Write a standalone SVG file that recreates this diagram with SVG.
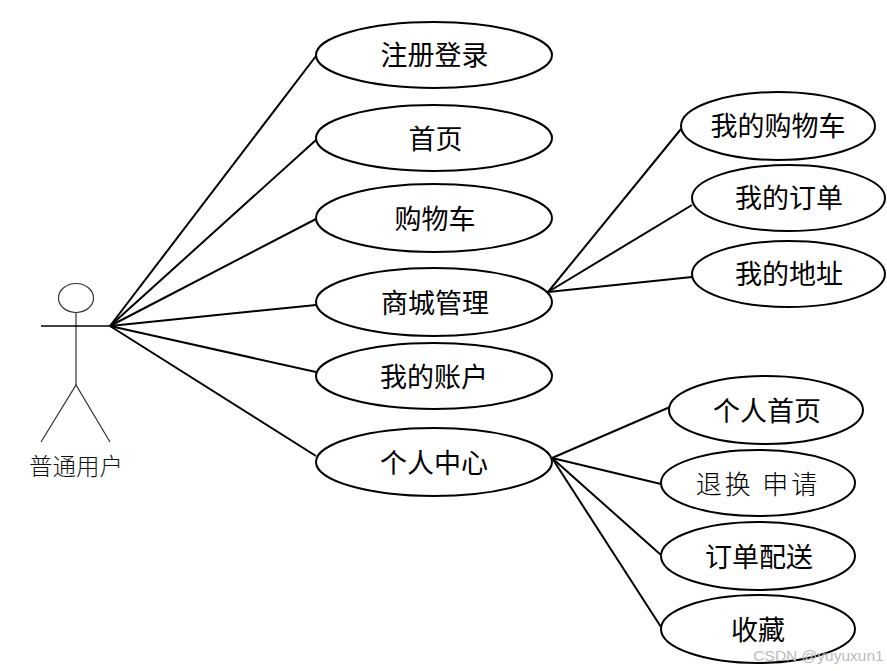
<svg xmlns="http://www.w3.org/2000/svg" width="887" height="671" viewBox="0 0 887 671">
<style>
.n{fill:#fff;stroke:#000;stroke-width:2}
.t{font-family:"Noto Sans CJK SC","Noto Sans CJK JP",sans-serif;font-size:27px;fill:#000;text-anchor:middle}
.c line{stroke:#000;stroke-width:2}
.a{fill:none;stroke:#333;stroke-width:1.2}
</style>
<rect width="887" height="671" fill="#fff"/>
<g id="connectors" class="c">
<line x1="110" y1="326" x2="316" y2="56"/>
<line x1="110" y1="326" x2="316" y2="140"/>
<line x1="110" y1="326" x2="316" y2="219"/>
<line x1="110" y1="326" x2="316" y2="305"/>
<line x1="110" y1="326" x2="316" y2="372"/>
<line x1="110" y1="326" x2="316" y2="456"/>
<line x1="548" y1="292" x2="681" y2="129"/>
<line x1="548" y1="292" x2="692" y2="205"/>
<line x1="548" y1="292" x2="692" y2="277"/>
<line x1="552" y1="458" x2="670" y2="407"/>
<line x1="552" y1="458" x2="661" y2="484"/>
<line x1="552" y1="458" x2="661" y2="555"/>
<line x1="552" y1="458" x2="661" y2="627"/>
</g>
<g id="actor">
<ellipse class="a" cx="76" cy="298" rx="17.500" ry="14.500"/>
<line class="a" x1="76" y1="312" x2="76" y2="385" stroke-width="1.500"/>
<line x1="41" y1="326" x2="110" y2="326" stroke="#000" stroke-width="1.500"/>
<path class="a" d="M41 442L76 385L110 442"/>
<text x="76" y="475" font-family="'Noto Sans CJK SC',serif" font-weight="300" font-size="23.500" text-anchor="middle" fill="#111">普通用户</text>
</g>
<g id="n1"><ellipse class="n" cx="434" cy="55" rx="118" ry="33"/><text class="t" x="434.500" y="65">注册登录</text></g>
<g id="n2"><ellipse class="n" cx="434" cy="138" rx="118" ry="33"/><text class="t" x="435.500" y="149">首页</text></g>
<g id="n3"><ellipse class="n" cx="434" cy="218" rx="118" ry="34"/><text class="t" x="435" y="229">购物车</text></g>
<g id="n4"><ellipse class="n" cx="434" cy="302" rx="118" ry="34"/><text class="t" x="435" y="313">商城管理</text></g>
<g id="n5"><ellipse class="n" cx="434" cy="376" rx="118" ry="33"/><text class="t" x="434" y="387">我的账户</text></g>
<g id="n6"><ellipse class="n" cx="434" cy="462" rx="118" ry="34"/><text class="t" x="434" y="473">个人中心</text></g>
<g id="n7"><ellipse class="n" cx="778" cy="126" rx="97" ry="34"/><text class="t" x="778" y="136">我的购物车</text></g>
<g id="n8"><ellipse class="n" cx="788.500" cy="198" rx="96.500" ry="33"/><text class="t" x="789" y="208">我的订单</text></g>
<g id="n9"><ellipse class="n" cx="788.500" cy="274" rx="96.500" ry="33"/><text class="t" x="789" y="284">我的地址</text></g>
<g id="n10"><ellipse class="n" cx="766" cy="410" rx="97" ry="34"/><text class="t" x="767" y="421">个人首页</text></g>
<g id="n11"><ellipse class="n" cx="758" cy="483" rx="97" ry="33"/><text class="t" x="758" y="494" font-weight="300" fill="#222" style="font-size:26px;letter-spacing:3px">退换 申请</text></g>
<g id="n12"><ellipse class="n" cx="758" cy="556" rx="97" ry="34"/><text class="t" x="759" y="567">订单配送</text></g>
<g id="n13"><ellipse class="n" cx="758" cy="629" rx="97" ry="34"/><text class="t" x="758" y="640">收藏</text></g>
<text x="818.500" y="661" font-family="'Liberation Sans',sans-serif" font-size="15.500" text-anchor="middle" fill="#bbb">CSDN @yuyuxun1</text>
</svg>
